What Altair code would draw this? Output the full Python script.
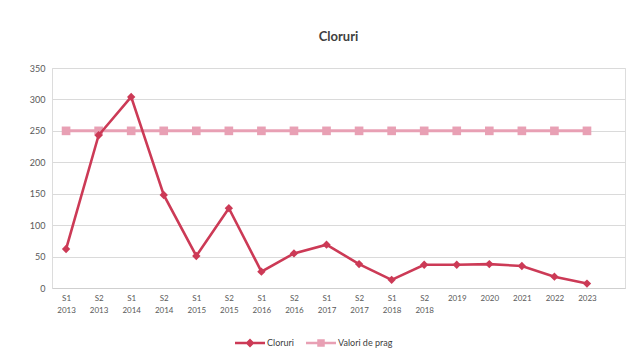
import altair as alt
import pandas as pd

categories = ["S1 2013", "S2 2013", "S1 2014", "S2 2014", "S1 2015", "S2 2015",
              "S1 2016", "S2 2016", "S1 2017", "S2 2017", "S1 2018", "S2 2018",
              "2019", "2020", "2021", "2022", "2023"]
cloruri = [62, 243, 304, 148, 51, 127, 26, 55, 69, 38, 13, 37, 37, 38, 35, 18, 7]
prag = [250] * 17
series_names = ["Cloruri", "Valori de prag"]
y_ticks = [0, 50, 100, 150, 200, 250, 300, 350]

rows = []
for i, c in enumerate(categories):
    rows.append({"cat": c, "serie": series_names[0], "val": cloruri[i]})
    rows.append({"cat": c, "serie": series_names[1], "val": prag[i]})
df = pd.DataFrame(rows)

RED = "#cc3a56"
PINK = "#e8a0b4"
FONT = "Lato"

color = alt.Color("serie:N",
                  scale=alt.Scale(domain=series_names, range=[RED, PINK]),
                  title=None)

x = alt.X("cat:N", sort=categories, title=None,
          scale=alt.Scale(type="point", padding=0.8, align=0.27),
          axis=alt.Axis(labelAngle=0, labelExpr="split(datum.label, ' ')",
                        labelFontSize=8, labelColor="#595959", labelFont=FONT,
                        labelLineHeight=12, labelPadding=6, ticks=False,
                        domainColor="#cfcfcf", grid=False))
y = alt.Y("val:Q", title=None,
          scale=alt.Scale(domain=[0, 350]),
          axis=alt.Axis(values=y_ticks, labelOverlap=False,
                        labelFontSize=9, labelColor="#595959", labelFont=FONT,
                        labelPadding=7, ticks=False, domainColor="#dcdcdc",
                        gridColor="#dadada", gridWidth=1))

base = alt.Chart(df).encode(x=x, y=y, color=color)

line_prag = base.transform_filter(alt.datum.serie == "Valori de prag").mark_line(strokeWidth=3)
pts_prag = base.transform_filter(alt.datum.serie == "Valori de prag").mark_point(
    shape="square", filled=True, size=75, opacity=1)
line_cl = base.transform_filter(alt.datum.serie == "Cloruri").mark_line(strokeWidth=2.6)
pts_cl = base.transform_filter(alt.datum.serie == "Cloruri").mark_point(
    shape="diamond", filled=True, size=70, opacity=1)

legend_shapes = [
    "M-1,-0.085H1V0.085H-1Z M0,-0.3L0.3,0L0,0.3L-0.3,0Z",
    "M-1,-0.09H1V0.09H-1Z M-0.25,-0.25H0.25V0.25H-0.25Z",
]
legend_layer = alt.Chart(df).transform_filter("false").mark_point(
    filled=True, opacity=1).encode(
    x=x,
    y=y,
    color=alt.Color("serie:N",
                    scale=alt.Scale(domain=series_names, range=[RED, PINK]),
                    title=None,
                    legend=alt.Legend(orient="none", direction="horizontal",
                                      legendX=183, legendY=260,
                                      symbolSize=900, labelFont=FONT,
                                      labelFontSize=9, labelColor="#404040",
                                      labelOffset=2, columnPadding=12,
                                      symbolStrokeWidth=0)),
    shape=alt.Shape("serie:N",
                    scale=alt.Scale(domain=series_names, range=legend_shapes),
                    title=None),
)

chart = alt.layer(line_prag, pts_prag, line_cl, pts_cl, legend_layer).properties(
    width=573, height=220,
    title=alt.Title("Cloruri", fontSize=13, font=FONT, fontWeight="bold",
                    color="#404040", anchor="middle", offset=20),
    autosize=alt.AutoSizeParams(type="none"),
    padding={"left": 44, "top": 60, "right": 4, "bottom": 60},
).configure_view(stroke=None).configure(background="white")

chart.save("out.html", embed_options={"renderer": "svg", "actions": False})
